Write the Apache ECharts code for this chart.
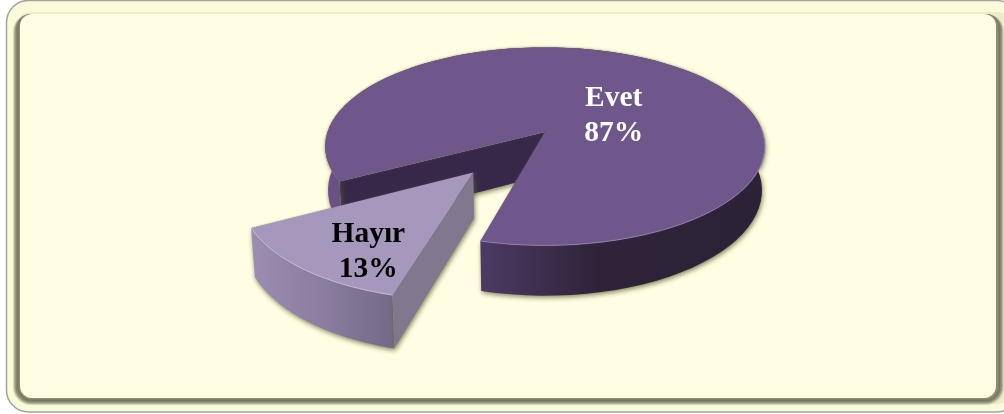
<!DOCTYPE html>
<html>
<head>
<meta charset="utf-8">
<style>html,body{margin:0;padding:0;background:#fff}#c{width:1004px;height:414px}</style>
<script src="https://cdn.jsdelivr.net/npm/echarts@6/dist/echarts.min.js"></script>
</head>
<body>
<div id="c"></div>
<script>
// --- data ---
const categories = ['Evet', 'Hayır'];
const values = [87, 13];

// --- look ---
const FONT = '"Liberation Serif", serif';
const sliceStyle = {
  'Evet': {
    top: '#6f568b', rim: 'rgba(150,125,185,0.9)', inner: '#37284a', text: '#ffffff',
    wallStops: [[0, '#6a5286'], [0.36, '#4b3a63'], [0.62, '#2e2339'], [1, '#2c2237']],
    explode: 0, radius: 0.995, labelUV: [0.322, -0.17], innerFirst: true
  },
  'Hayır': {
    top: '#a698bd', rim: 'rgba(200,190,222,0.95)', inner: '#81788f', text: '#000000',
    wallStops: [[0, '#9b8eb1'], [0.5, '#8a7da0'], [1, '#736985']],
    explode: 0.5, radius: 0.985, labelUV: [-0.685, 1.044], innerFirst: false
  }
};
const view = { cx: 545, cy: 132, A: 218.6, B: 97.4, p: 0.146, depth: 43, lowX: 0.987 };
const START_DEG = 104.8;   // where Hayır begins, clockwise on screen

const total = values.reduce((a, b) => a + b, 0);

function proj(u, v, low) {
  const w = 1 - view.p * v;
  const k = low ? view.lowX : 1;
  return [view.cx + k * view.A * u / w,
          view.cy + (view.B * v + (low ? view.depth : 0)) / w];
}
const STEPS = 90;
function arc(ox, oy, r, a0, a1, low) {
  const pts = [];
  for (let i = 0; i <= STEPS; i++) {
    const a = a0 + (a1 - a0) * i / STEPS;
    pts.push(proj(ox + r * Math.cos(a), oy + r * Math.sin(a), low));
  }
  return pts;
}
// longest continuous run of arc points on the viewer's side
function frontRun(pts, a0, a1) {
  let best = [], cur = [];
  pts.forEach((p, k) => {
    const a = a0 + (a1 - a0) * k / STEPS;
    if (Math.sin(a) > -0.08) {
      cur.push(p);
      if (cur.length > best.length) best = cur;
    } else {
      cur = [];
    }
  });
  return best;
}

// slice angular spans: Hayır starts at START_DEG, then Evet follows it
function spanOf(index) {
  const rad = Math.PI / 180;
  const hay = values[1] / total * 360;
  if (index === 1) return [START_DEG * rad, (START_DEG + hay) * rad];
  return [(START_DEG + hay) * rad, (START_DEG + 360) * rad];
}

function renderSlice(params, api) {
  const i = params.dataIndex;
  const name = categories[i];
  const st = sliceStyle[name];
  const span = spanOf(i);
  const mid = (span[0] + span[1]) / 2;
  const dir = i === 1 ? mid : mid + Math.PI;
  const ox = st.explode * Math.cos(dir), oy = st.explode * Math.sin(dir);

  const topArc = arc(ox, oy, st.radius, span[0], span[1], false);
  const lowArc = arc(ox, oy, st.radius, span[0], span[1], true);
  const aT = proj(ox, oy, false), aL = proj(ox, oy, true);
  const shadow = { shadowBlur: 5, shadowColor: 'rgba(95,95,45,0.75)', shadowOffsetX: 1, shadowOffsetY: 2 };

  // outer wall strip
  const strip = {
    type: 'polygon',
    shape: { points: topArc.concat(lowArc.slice().reverse()) },
    style: Object.assign({
      fill: new echarts.graphic.LinearGradient(0, 0, 1, 0,
        st.wallStops.map(s => ({ offset: s[0], color: s[1] })))
    }, shadow)
  };
  // radial wall that faces the viewer
  const wall = {
    type: 'polygon',
    shape: { points: [aT, topArc[0], lowArc[0], aL] },
    style: Object.assign({ fill: st.inner }, shadow)
  };
  const children = st.innerFirst ? [wall, strip] : [strip, wall];

  // top face
  children.push({
    type: 'polygon',
    shape: { points: [aT].concat(topArc) },
    style: { fill: st.top, shadowBlur: 2, shadowColor: 'rgba(95,95,45,0.5)' }
  });
  // thin lit edge on the front rim
  children.push({
    type: 'polyline',
    shape: { points: frontRun(topArc, span[0], span[1]) },
    style: { fill: null, stroke: st.rim, lineWidth: 1 }
  });
  // label
  const lp = proj(st.labelUV[0], st.labelUV[1], false);
  children.push({
    type: 'text',
    style: {
      x: lp[0], y: lp[1],
      text: name + '\n' + Math.round(api.value(0) / total * 100) + '%',
      fill: st.text, font: 'bold 29.5px ' + FONT, lineHeight: 35,
      align: 'center', verticalAlign: 'middle'
    }
  });
  return { type: 'group', children: children };
}

// bevelled frame: nested rounded rects
const bevel = ['#d8d8b8', '#b4b498', '#98987e', '#86866e', '#7a7a64', '#80806a', '#8e8e76'];
const frame = [
  { type: 'rect', z: 0, shape: { x: 6.5, y: 0.5, width: 1012, height: 411.5, r: 22 },
    style: { fill: '#fbfbdc', stroke: '#a3a39a', lineWidth: 1.5 } },
  { type: 'rect', z: 1, shape: { x: 14, y: 12, width: 1000, height: 392, r: 18 },
    style: { fill: '#ebebc8' } }
];
bevel.forEach((c, k) => {
  frame.push({
    type: 'rect', z: 2 + k,
    shape: { x: 13 + k, y: 14, width: 991 - 2 * k, height: 391 - k, r: 18 - k * 0.8 },
    style: { fill: c }
  });
});
frame.push({
  type: 'rect', z: 20,
  shape: { x: 20, y: 14, width: 976, height: 384, r: 12 },
  style: { fill: '#fffee3' }
});

const chart = echarts.init(document.getElementById('c'), null, { renderer: 'canvas' });

chart.setOption({
  animation: false,
  backgroundColor: '#ffffff',
  graphic: frame,
  series: [{
    type: 'custom',
    coordinateSystem: 'none',
    z: 30,
    renderItem: renderSlice,
    data: categories.map((n, i) => ({ name: n, value: [values[i]] }))
  }]
});
</script>
</body>
</html>
